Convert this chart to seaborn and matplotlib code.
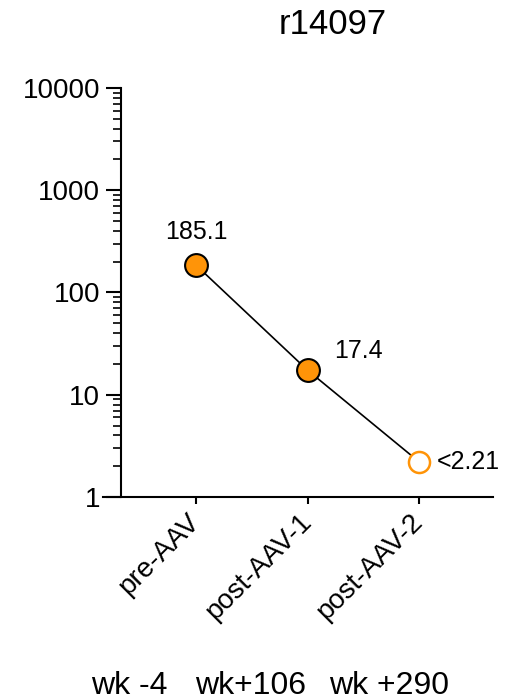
import numpy as np
import matplotlib
matplotlib.use("Agg")
import matplotlib.pyplot as plt
import matplotlib.ticker as mticker
import seaborn as sns

# data
animal = "r14097"
timepoints = ["pre-AAV", "post-AAV-1", "post-AAV-2"]
weeks = ["wk -4", "wk+106", "wk +290"]
titers = [185.1, 17.4, 2.21]
detected = [True, True, False]
value_labels = ["185.1", "17.4", "<2.21"]

orange = "#FF9408"

sns.set_style("ticks")
plt.rcParams["font.family"] = ["Liberation Sans", "DejaVu Sans"]
plt.rcParams.update({
    "text.color": "black",
    "xtick.color": "black",
    "ytick.color": "black",
    "xtick.labelcolor": "black",
    "ytick.labelcolor": "black",
})

fig = plt.figure(figsize=(5.06, 7.0), dpi=100, facecolor="white")
ax = fig.add_axes([0.2036, 0.29, 0.7708, 0.5843])

xs = np.arange(len(timepoints))
sns.lineplot(x=xs, y=titers, color="black", lw=1.2, ax=ax, zorder=2)

det = [i for i, d in enumerate(detected) if d]
und = [i for i, d in enumerate(detected) if not d]
sns.scatterplot(x=xs[det], y=[titers[i] for i in det], s=270, color=orange,
                edgecolor="black", linewidth=1.5, ax=ax, zorder=3)
sns.scatterplot(x=xs[und], y=[titers[i] for i in und], s=230, color="white",
                edgecolor=orange, linewidth=1.8, ax=ax, zorder=3)

ax.set_yscale("log")
ax.set_ylim(1, 10000)
ax.set_xlim(-0.834, 2.664)

ax.yaxis.set_major_locator(mticker.FixedLocator([1, 10, 100, 1000, 10000]))
ax.yaxis.set_major_formatter(mticker.FuncFormatter(lambda v, p: f"{v:g}"))
ax.yaxis.set_minor_locator(mticker.LogLocator(base=10, subs=np.arange(2, 10)))
ax.yaxis.set_minor_formatter(mticker.NullFormatter())

ax.set_xticks(xs)
ax.set_xticklabels(timepoints, rotation=45, ha="right", va="center",
                   rotation_mode="anchor", fontsize=20, color="black")

ax.tick_params(axis="y", which="major", length=11, width=1.5, labelsize=20, pad=4,
               direction="out", color="black", labelcolor="black")
ax.tick_params(axis="y", which="minor", length=6, width=1.2, direction="out",
               color="black")
ax.tick_params(axis="x", which="major", length=5, width=1.5, pad=10,
               direction="out", color="black")

for side in ["top", "right"]:
    ax.spines[side].set_visible(False)
for side in ["left", "bottom"]:
    ax.spines[side].set_color("black")
    ax.spines[side].set_linewidth(1.5)
ax.spines["left"].set_position(("data", -0.673))
ax.set_xlabel("")
ax.set_ylabel("")
ax.grid(False)

# value labels next to the points
offsets = [(0, 24), (37, 14), (13, 0)]
aligns = ["center", "center", "left"]
for x, y, txt, off, ha in zip(xs, titers, value_labels, offsets, aligns):
    ax.annotate(txt, (x, y), xytext=off, textcoords="offset points",
                ha=ha, va="center", fontsize=18, color="black")

fig.text(333 / 506, 1 - 25 / 700, animal, ha="center", va="center",
         fontsize=25, color="black")

week_x = [129, 251, 389]
for wx, wk in zip(week_x, weeks):
    fig.text(wx / 506, 6 / 700, wk, ha="center", va="baseline",
             fontsize=23, color="black")

fig.savefig("out.png", dpi=100, facecolor="white")
